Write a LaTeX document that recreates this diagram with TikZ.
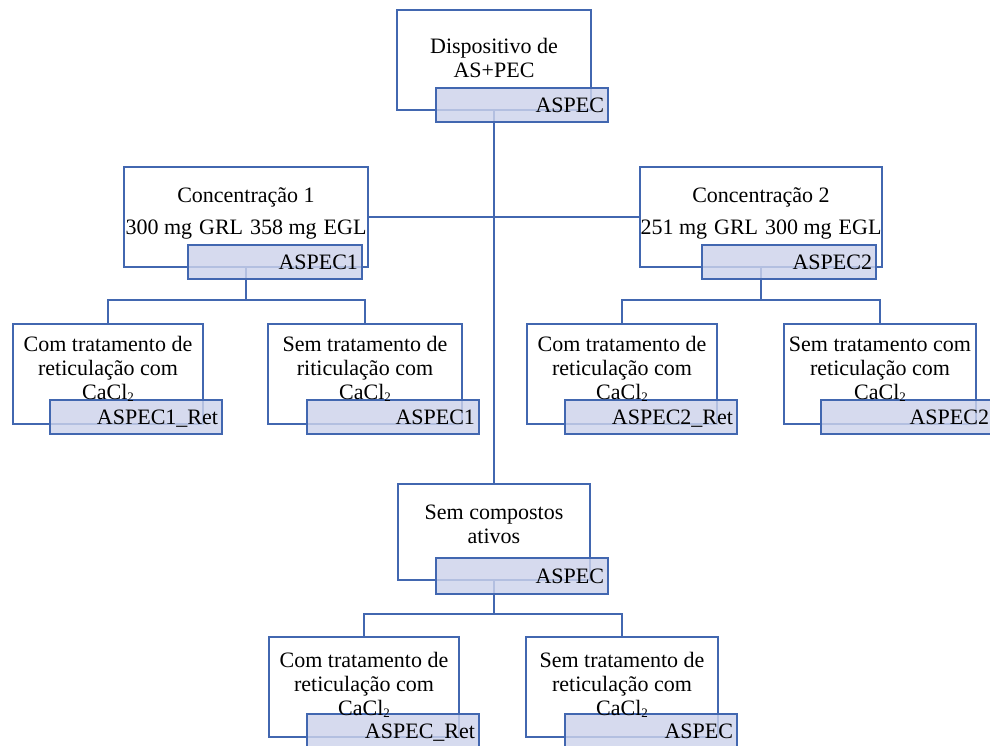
\documentclass[tikz,border=0pt]{standalone}
\usepackage{fontspec}
\setmainfont{Liberation Serif}
\definecolor{bord}{RGB}{66,103,176}
\definecolor{labf}{RGB}{205,211,235}
\newcommand{\cacl}{CaCl\raisebox{-1.5pt}{\fontsize{13}{13}\selectfont 2}}
\begin{document}
\begin{tikzpicture}[x=1pt,y=-1pt,
  wbox/.style={draw=bord, line width=2.2pt, fill=white, inner sep=0pt},
  labbox/.style={draw=bord, line width=2.2pt, fill=labf, fill opacity=0.82, text opacity=1,
     inner xsep=4pt, inner ysep=0pt, align=right, text width=164pt, minimum height=34pt,
     text height=16pt, text depth=2pt, font=\fontsize{22}{24.5}\selectfont},
  conn/.style={draw=bord, line width=2.2pt},
  txt/.style={align=center, inner sep=0pt, font=\fontsize{22}{24}\selectfont}]
\useasboundingbox (0,0) rectangle (990,745);
% white boxes
\node[wbox, minimum width=194pt, minimum height=100pt] (top) at (494,60) {};
\node[wbox, minimum width=244pt, minimum height=100pt] (c1) at (246,217) {};
\node[wbox, minimum width=242pt, minimum height=100pt] (c2) at (761,217) {};
\node[wbox, minimum width=190pt, minimum height=100pt] (A) at (108,374) {};
\node[wbox, minimum width=194pt, minimum height=100pt] (B) at (365,374) {};
\node[wbox, minimum width=190pt, minimum height=100pt] (C) at (622,374) {};
\node[wbox, minimum width=192pt, minimum height=100pt] (D) at (880,374) {};
\node[wbox, minimum width=192pt, minimum height=96pt] (semc) at (494,532) {};
\node[wbox, minimum width=190pt, minimum height=100pt] (E) at (364,687) {};
\node[wbox, minimum width=192pt, minimum height=100pt] (F) at (622,687) {};
% fork points
\coordinate (f1) at (246,300);
\coordinate (f2) at (761,300);
\coordinate (f3) at (494,614);
% connectors
\draw[conn] (top.south) -- (semc.north);
\draw[conn] (c1.east) -- (c2.west);
\draw[conn] (c1.south) -- (f1);
\draw[conn] (A.north) |- (f1) -| (B.north);
\draw[conn] (c2.south) -- (f2);
\draw[conn] (C.north) |- (f2) -| (D.north);
\draw[conn] (semc.south) -- (f3);
\draw[conn] (E.north) |- (f3) -| (F.north);
% label boxes
\node[labbox] (topL) at (522,105) {ASPEC};
\node[labbox, text width=166pt] (c1L) at (275,262) {ASPEC1};
\node[labbox, text width=166pt] (c2L) at (789,262) {ASPEC2};
\node[labbox] (AL) at (136,417) {ASPEC1\_Ret};
\node[labbox] (BL) at (393,417) {ASPEC1};
\node[labbox] (CL) at (651,417) {ASPEC2\_Ret};
\node[labbox] (DL) at (907,417) {ASPEC2};
\node[labbox, minimum height=36pt] (semL) at (522,576) {ASPEC};
\node[labbox] (EL) at (393,731) {ASPEC\_Ret};
\node[labbox] (FL) at (651,731) {ASPEC};
% texts
\node[txt] (topT) at (494,58) {Dispositivo de\\AS+PEC};
\node[txt] (c1T) at (246,213) {Concentração 1\\[8pt]300 mg\hspace{1.5pt} GRL\hspace{1.5pt} 358 mg\hspace{1.5pt} EGL};
\node[txt] (c2T) at (761,213) {Concentração 2\\[8pt]251 mg\hspace{1.5pt} GRL\hspace{1.5pt} 300 mg\hspace{1.5pt} EGL};
\node[txt] (AT) at (108,369) {Com tratamento de\\reticulação com\\\cacl};
\node[txt] (BT) at (365,369) {Sem tratamento de\\riticulação com\\\cacl};
\node[txt] (CT) at (622,369) {Com tratamento de\\reticulação com\\\cacl};
\node[txt] (DT) at (880,369) {Sem tratamento com\\reticulação com\\\cacl};
\node[txt] (semT) at (494,524) {Sem compostos\\ativos};
\node[txt] (ET) at (364,685) {Com tratamento de\\reticulação com\\\cacl};
\node[txt] (FT) at (622,685) {Sem tratamento de\\reticulação com\\\cacl};
\end{tikzpicture}
\end{document}
